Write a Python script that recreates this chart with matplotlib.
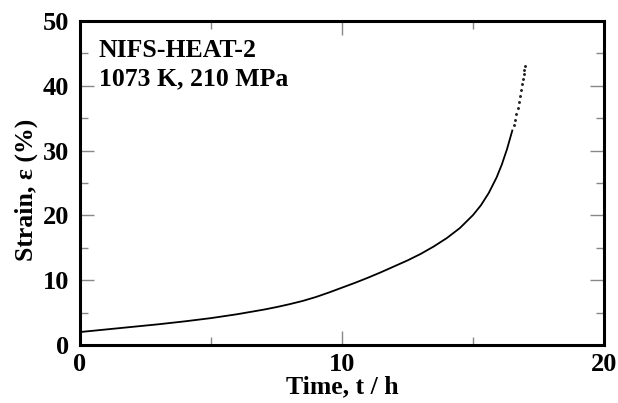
import matplotlib.pyplot as plt
from matplotlib.ticker import MultipleLocator

# creep curve
time_h = [0.0, 1.0, 2.0, 3.0, 4.0, 5.0, 6.0, 7.0, 7.5, 8.0, 8.5, 9.0, 9.5,
          10.0, 10.5, 11.0, 11.5, 12.0, 12.5, 13.0, 13.5, 14.0, 14.5, 15.0,
          15.3, 15.6, 15.9, 16.1, 16.3, 16.5]
strain = [2.0, 2.4, 2.8, 3.2, 3.65, 4.15, 4.75, 5.45, 5.85, 6.3, 6.8, 7.4,
          8.1, 8.85, 9.6, 10.4, 11.25, 12.15, 13.05, 14.05, 15.2, 16.5,
          18.05, 20.05, 21.55, 23.45, 25.85, 27.85, 30.25, 33.1]

# sparse points near rupture
tail_t = [16.55, 16.6, 16.65, 16.7, 16.75, 16.8, 16.84, 16.88, 16.91,
          16.94, 16.96, 16.98]
tail_s = [33.9, 34.7, 35.6, 36.5, 37.5, 38.5, 39.4, 40.3, 41.0,
          41.8, 42.4, 43.1]

plt.rcParams['font.family'] = ['Liberation Serif', 'DejaVu Serif']
plt.rcParams['font.weight'] = 'bold'

fig = plt.figure(figsize=(6.18, 4.03), dpi=100)
ax = fig.add_axes([80 / 618, 1 - 345 / 403, 524 / 618, 324 / 403])

ax.plot(time_h, strain, color='black', lw=1.3)
ax.plot(tail_t, tail_s, ls='none', marker='o', ms=1.1, color='#222222')

ax.text(0.72, 44.4, 'NIFS-HEAT-2', fontsize=18.5, fontweight='bold',
        va='baseline')
ax.text(0.72, 40.1, '1073 K, 210 MPa', fontsize=18.5, fontweight='bold',
        va='baseline')

ax.set_xlim(0, 20)
ax.set_ylim(0, 50)
ax.xaxis.set_major_locator(MultipleLocator(10))
ax.xaxis.set_minor_locator(MultipleLocator(5))
ax.yaxis.set_major_locator(MultipleLocator(10))
ax.yaxis.set_minor_locator(MultipleLocator(5))
ax.tick_params(which='both', direction='in', top=True, right=True,
               color='#888888', width=1, labelsize=19)
ax.tick_params(axis='x', pad=6)
ax.tick_params(axis='y', pad=8)
ax.tick_params(which='major', length=10)
ax.tick_params(which='minor', length=6)
for lab in ax.get_xticklabels() + ax.get_yticklabels():
    lab.set_fontweight('bold')
for sp in ax.spines.values():
    sp.set_linewidth(2.2)

ax.set_xlabel('Time, t / h', fontsize=18.5, fontweight='bold', labelpad=-1)
ax.set_ylabel('Strain, ε (%)', fontsize=18.5, fontweight='bold')
ax.yaxis.set_label_coords(-0.08, 0.48)

fig.savefig('out.png', dpi=100)
